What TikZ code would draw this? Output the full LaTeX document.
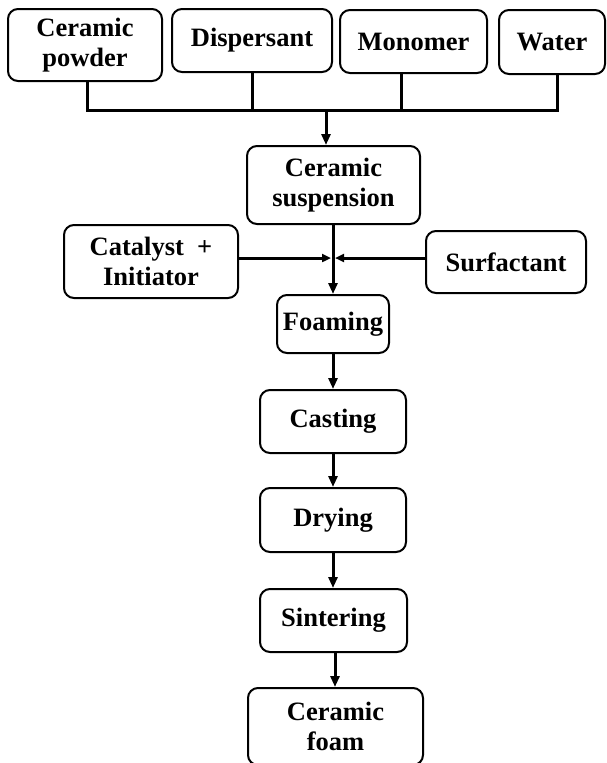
\documentclass[tikz,border=0pt]{standalone}
\usepackage{fontspec}
\setmainfont{Liberation Serif}
\usetikzlibrary{arrows.meta}
\begin{document}
\begin{tikzpicture}[x=1pt,y=-1pt,
  box/.style={draw=black, line width=2pt, rounded corners=10pt, fill=white,
    align=center, inner sep=0pt, font=\fontsize{26.5}{30}\selectfont\bfseries},
  link/.style={draw=black, line width=3pt},
  arr/.style={link, -{Triangle[length=11pt,width=9pt]}},
  sidearr/.style={link, -{Triangle[length=9pt,width=8pt]}}]
\useasboundingbox (0,0) rectangle (606,763);

% raw materials
\node[box, minimum width=154pt, minimum height=72pt] (cp)    at (85,45)    {Ceramic\\powder};
\node[box, minimum width=160pt, minimum height=63pt] (disp)  at (252,40.5) {Dispersant};
\node[box, minimum width=147pt, minimum height=63pt] (mono)  at (413.5,41.5) {Monomer};
\node[box, minimum width=106pt, minimum height=64pt] (water) at (552,42)    {Water};

% process chain
\node[box, minimum width=173pt, minimum height=78pt] (susp)  at (333.5,185) {Ceramic\\suspension};
\node[box, minimum width=174pt, minimum height=73pt] (cat)   at (151,261.5) {Catalyst\ \ +\\Initiator};
\node[box, minimum width=160pt, minimum height=62pt] (surf)  at (506,262)   {Surfactant};
\node[box, minimum width=112pt, minimum height=58pt] (foam)  at (333,324)   {Foaming};
\node[box, minimum width=146pt, minimum height=63pt] (cast)  at (333,421.5) {Casting};
\node[box, minimum width=146pt, minimum height=64pt] (dry)   at (333,520)   {Drying};
\node[box, minimum width=147pt, minimum height=63pt] (sint)  at (333.5,620.5) {Sintering};
\node[box, minimum width=175pt, minimum height=77pt] (cfoam) at (335.5,726.5) {Ceramic\\foam};

% collecting bus under the raw materials
\coordinate (busL) at (87,110);
\coordinate (busR) at (557,110);
\coordinate (busM) at (401,110);
\coordinate (busO) at (326,110);
\draw[link, line join=miter] (cp.south -| busL) -- (busL) -- (busR) -- (water.south -| busR);
\draw[link] (disp.south) -- (disp.south |- busL);
\draw[link] (mono.south -| busM) -- (busM);
\draw[arr] (busO) -- (busO |- susp.north);

% additives joining the suspension
\coordinate (jn) at (333,258);
\draw[arr] (jn |- susp.south) -- (jn |- foam.north);
\draw[sidearr] (cat.east |- jn) -- ([xshift=-2pt]jn);
\draw[sidearr] (surf.west |- jn) -- ([xshift=2pt]jn);

% forming and firing steps
\draw[arr] (foam.south) -- (foam.south |- cast.north);
\draw[arr] (cast.south) -- (cast.south |- dry.north);
\draw[arr] (dry.south) -- (dry.south |- sint.north);
\draw[arr] ([xshift=1.5pt]sint.south) -- ([xshift=1.5pt]sint.south |- cfoam.north);
\end{tikzpicture}
\end{document}
